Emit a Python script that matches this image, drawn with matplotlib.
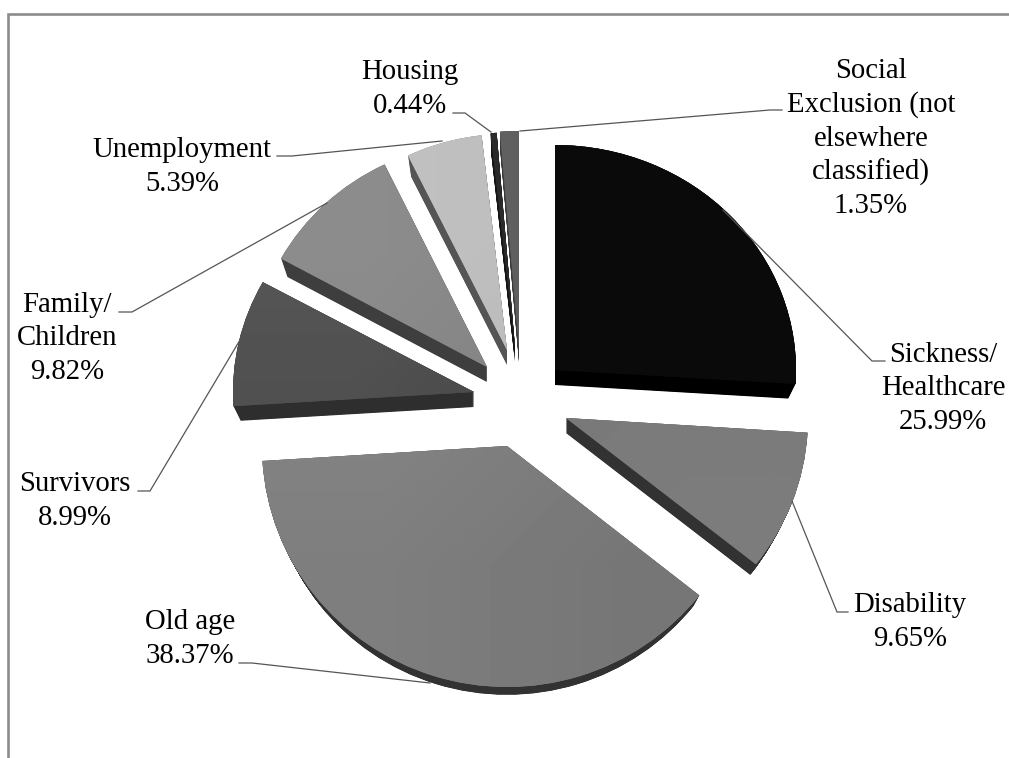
import numpy as np
import matplotlib
matplotlib.use('Agg')
import matplotlib.pyplot as plt
from matplotlib.patches import Wedge
from matplotlib.transforms import Affine2D

plt.rcParams['font.family'] = ['Liberation Serif', 'DejaVu Serif']

# share of spending per function, clockwise from 12 o'clock
labels = ['Sickness/\nHealthcare', 'Disability', 'Old age', 'Survivors', 'Family/\nChildren',
          'Unemployment', 'Housing', 'Social\nExclusion (not\nelsewhere\nclassified)']
values = [25.99, 9.65, 38.37, 8.99, 9.82, 5.39, 0.44, 1.35]

# layout in pixels, y pointing down
apex_x = [555, 566, 507, 474, 487, 507, 515, 519]
apex_y = [370, 418, 446, 392, 367, 350, 347, 347]
rad_x = [241, 242, 245, 241, 235, 227, 217, 225]
rad_y = [225, 236, 241, 228, 225, 216, 215, 216]

# grey levels: left/right of the top face, then the side
top_left = [10, 120, 134, 85, 140, 192, 44, 98]
top_right = [10, 124, 118, 66, 126, 184, 36, 88]
side_grey = [0, 50, 50, 46, 62, 85, 20, 60]

label_x = [943, 910, 190, 75, 67, 182, 410, 871]
label_base = [429, 646, 663, 525, 379, 191, 113, 213]

leaders = [
    [(723, 210), (872, 361), (885, 361)],
    [(792, 501), (837, 612), (848, 612)],
    [(430, 683), (252, 663), (239, 663)],
    [(240, 340), (150, 491), (138, 491)],
    [(327, 203), (132, 312), (119, 312)],
    [(442, 141), (292, 156), (277, 156)],
    [(491, 132), (465, 113), (453, 113)],
    [(520, 131), (770, 110), (782, 110)],
]

DEPTH = 15
SHRINK = 0.03
LINE_STEP = 33.7


def slice_patch(ax, start, stop, cx, cy, rx, ry, color):
    tr = Affine2D().scale(rx, ry).translate(cx, cy) + ax.transData
    w = Wedge((0, 0), 1, start - 90, stop - 90, transform=tr, facecolor=color, edgecolor='none', linewidth=0)
    ax.add_patch(w)
    return w


fig = plt.figure(figsize=(10.09, 7.58), dpi=100)
ax = fig.add_axes([0, 0, 1, 1])
ax.set_xlim(0, 1009)
ax.set_ylim(758, 0)
ax.axis('off')

# outer frame, only top and left are inside the canvas
ax.plot([8, 8, 1009], [758, 13.5, 13.5], color='#8c8c8c', lw=1.9, solid_joinstyle='miter', zorder=1)

angles = np.concatenate([[0], np.cumsum(values)]) / np.sum(values) * 360

for i in range(len(values)):
    a0, a1 = angles[i], angles[i + 1]
    cx, cy, rx, ry = apex_x[i], apex_y[i], rad_x[i], rad_y[i]

    # extrude the slice downwards, slightly smaller towards the bottom
    side = str(side_grey[i] / 255)
    for s in np.linspace(1, 0, 31):
        w = slice_patch(ax, a0, a1, cx, cy + DEPTH * s, rx * (1 - SHRINK * s), ry * (1 - SHRINK * s), side)
        w.set_zorder(2)

    # solid top face keeps the edge smooth, the shaded image goes on top of it
    mid = (top_left[i] + top_right[i]) / 2
    base = slice_patch(ax, a0, a1, cx, cy, rx, ry, str(mid / 255))
    base.set_zorder(3)
    shade = np.array([[top_left[i], mid], [mid, top_right[i]]], dtype=float)
    im = ax.imshow(shade, cmap='gray', vmin=0, vmax=255, interpolation='bilinear', aspect='auto',
                   extent=(cx - rx, cx + rx, cy + ry, cy - ry), zorder=4)
    im.set_clip_path(base)

ax.set_xlim(0, 1009)
ax.set_ylim(758, 0)

for pts in leaders:
    xs, ys = zip(*pts)
    ax.plot(xs, ys, color='#555555', lw=0.9, solid_joinstyle='miter', zorder=5)

for name, val, x, base_y in zip(labels, values, label_x, label_base):
    lines = name.split('\n') + [f'{val:.2f}%']
    for k, line in enumerate(lines):
        y = base_y - (len(lines) - 1 - k) * LINE_STEP
        ax.text(x, y, line, fontsize=20.7, ha='center', va='baseline', color='black', zorder=6)

fig.savefig('out.png', dpi=100, facecolor='white')
